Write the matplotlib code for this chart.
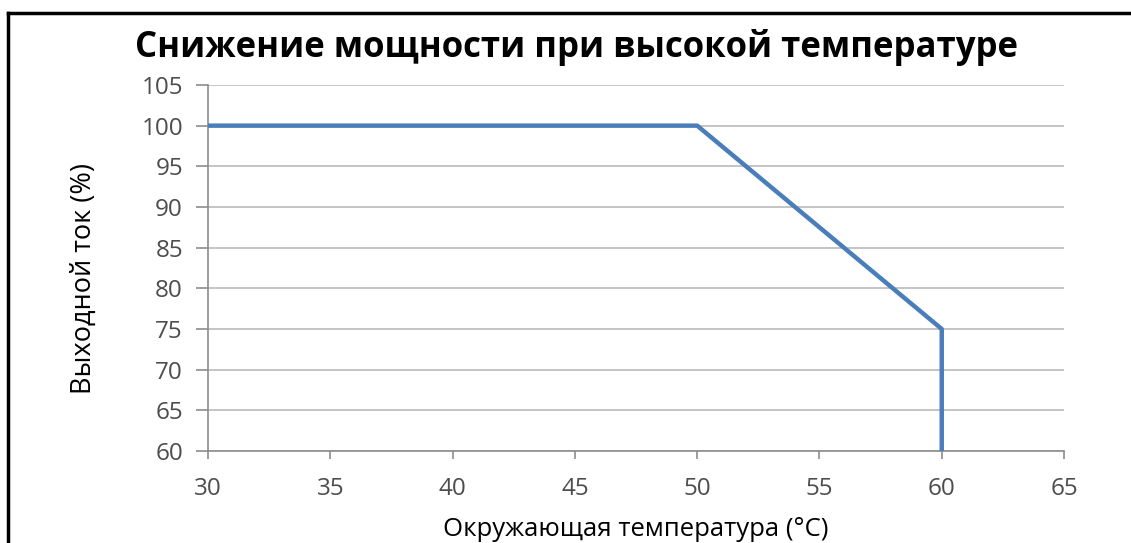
import matplotlib
matplotlib.use('Agg')
from matplotlib import pyplot as plt
from matplotlib.lines import Line2D

temperature = [30, 50, 60, 60]
current = [100, 100, 75, 60]
x_ticks = [30, 35, 40, 45, 50, 55, 60, 65]
y_ticks = [60, 65, 70, 75, 80, 85, 90, 95, 100, 105]

plt.rcParams['font.family'] = ['Open Sans', 'DejaVu Sans']

fig = plt.figure(figsize=(11.31, 5.43), dpi=100)
ax = fig.add_axes([0.1839, 0.1694, 0.9408 - 0.1839, 0.8435 - 0.1694])

ax.plot(temperature, current, color='#4A7EBB', linewidth=3.2, solid_capstyle='butt', zorder=3)

ax.set_xlim(30, 65)
ax.set_ylim(60, 105)
ax.set_xticks(x_ticks)
ax.set_yticks(y_ticks)
ax.yaxis.grid(True, color='#BFBFBF', linewidth=1.3)
ax.set_axisbelow(True)

for side in ['top', 'right']:
    ax.spines[side].set_visible(False)
ax.spines['left'].set_color('#8C8C8C')
ax.spines['bottom'].set_color('#8C8C8C')
ax.spines['left'].set_linewidth(1.2)
ax.spines['bottom'].set_linewidth(1.2)

ax.tick_params(axis='y', direction='out', length=9, width=1.2, color='#8C8C8C',
               labelsize=17.5, labelcolor='#4D4D4D', pad=9)
ax.tick_params(axis='x', direction='out', length=6, width=1.2, color='#8C8C8C',
               labelsize=17.5, labelcolor='#4D4D4D', pad=13)

ax.set_xlabel('Окружающая температура (°C)', fontsize=18.5, color='black', labelpad=11)
ax.set_ylabel('Выходной ток (%)', fontsize=19.5, color='black')
# label position (right edge of rotated text, vertical centre)
ax.yaxis.set_label_coords(-0.129, 0.47)

fig.text(0.51, 0.912, 'Снижение мощности при высокой температуре', ha='center', va='center',
         fontsize=25, fontweight='bold', color='black')

# Frame lines at top and left edge
fig.add_artist(Line2D([8 / 1131, 1.0], [1 - 13 / 543, 1 - 13 / 543], color='black', linewidth=2.5,
                      transform=fig.transFigure))
fig.add_artist(Line2D([8 / 1131, 8 / 1131], [0.0, 1 - 13 / 543], color='black', linewidth=2.5,
                      transform=fig.transFigure))

plt.savefig('out.png', dpi=100)
